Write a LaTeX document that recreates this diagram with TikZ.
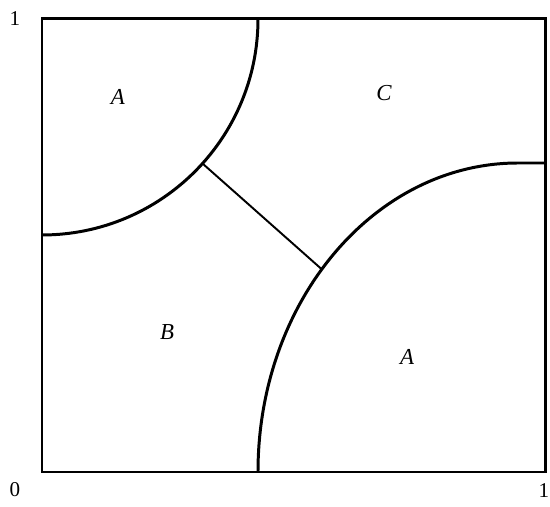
\documentclass[tikz,border=0pt]{standalone}
\usepackage{fontspec}
\setmainfont{Liberation Serif}
\usepackage{tikz}
\usetikzlibrary{positioning}

\begin{document}
\begin{tikzpicture}[x=10.06cm, y=9.06cm,
  region/.style={font=\fontsize{13}{13}\selectfont\itshape},
  tick/.style={font=\fontsize{12}{12}\selectfont, inner sep=0pt}]
\useasboundingbox (-0.0835,-0.0751) rectangle (1.0099,1.0419);
\draw[line width=1.7pt] (0,0) rectangle (1,1);
\draw[line width=1.7pt] (0.4294,1) arc[start angle=0, end angle=-90, x radius=0.4294, y radius=0.4768];
\draw[line width=1.7pt] (0.4294,0) arc[start angle=180, end angle=90, x radius=0.5169, y radius=0.6821] -- (1,0.6821);
\coordinate (p) at ([shift={(0,1)}]-42:0.4294 and 0.4768);
\coordinate (q) at ([shift={(0.9463,0)}]139:0.5169 and 0.6821);
\draw[line width=1.1pt] (p) -- (q);
\node[tick] (zero) at (-0.0537,-0.0397) {0};
\node[tick] (ytop) at (-0.0537,1.002) {1};
\node[tick] (xright) at (0.998,-0.041) {1};
\node[region] (a1) at (0.151,0.828) {A};
\node[region] (c) at (0.680,0.837) {C};
\node[region] (b) at (0.2485,0.309) {B};
\node[region] (a2) at (0.7256,0.254) {A};
\end{tikzpicture}
\end{document}
